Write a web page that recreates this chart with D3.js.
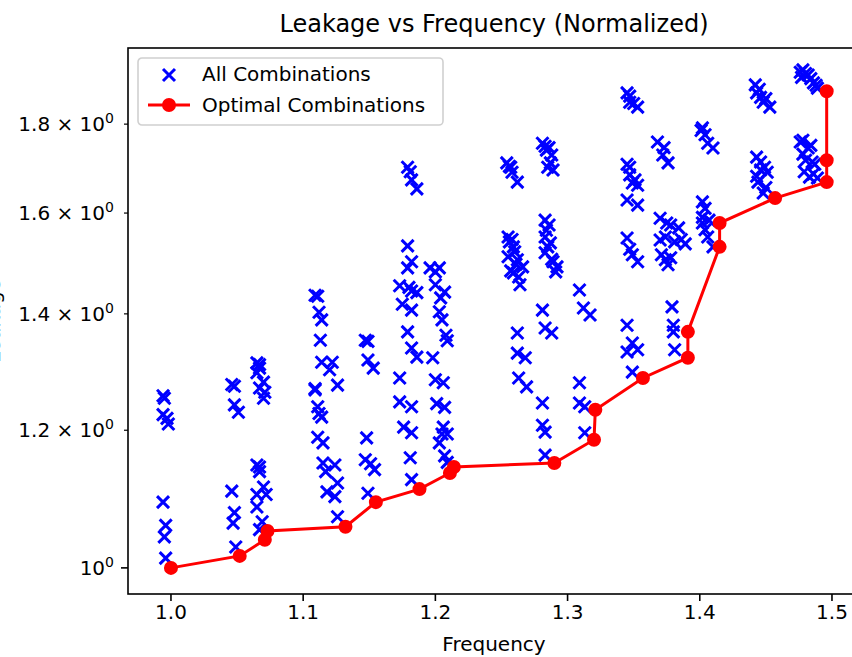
<!DOCTYPE html>
<html>
<head>
<meta charset="utf-8">
<script src="https://cdn.jsdelivr.net/npm/d3@7"></script>
<style>
  body { margin: 0; background: #fff; }
  svg { display: block; font-family: "DejaVu Sans", sans-serif; }
</style>
</head>
<body>
<script>
// every (frequency, leakage) pair that was tried
const allCombinations = [
  [0.994,1.256],[0.995,1.252],[0.994,1.225],[0.997,1.219],[0.998,1.210],[0.994,1.091],[0.996,1.058],[0.995,1.042],[0.996,1.013],
  [1.046,1.275],[1.048,1.272],[1.048,1.241],[1.051,1.229],[1.046,1.107],[1.048,1.076],[1.047,1.061],[1.049,1.028],
  [1.065,1.312],[1.067,1.309],[1.067,1.303],[1.065,1.295],[1.070,1.279],[1.067,1.269],[1.071,1.262],[1.070,1.252],
  [1.065,1.146],[1.067,1.143],[1.067,1.136],[1.070,1.113],[1.065,1.102],[1.072,1.102],[1.065,1.084],[1.069,1.063],[1.067,1.052],
  [1.109,1.435],[1.111,1.433],[1.112,1.403],[1.114,1.389],[1.113,1.352],[1.114,1.313],[1.109,1.266],[1.111,1.238],
  [1.114,1.221],[1.111,1.189],[1.115,1.180],[1.115,1.149],[1.117,1.136],[1.118,1.106],[1.109,1.268],[1.112,1.227],
  [1.122,1.313],[1.120,1.300],[1.126,1.274],[1.124,1.146],[1.126,1.119],[1.124,1.099],[1.126,1.070],
  [1.147,1.352],[1.149,1.350],[1.149,1.317],[1.153,1.303],[1.148,1.188],[1.147,1.154],[1.151,1.148],[1.154,1.139],[1.149,1.104],
  [1.179,1.700],[1.181,1.690],[1.182,1.672],[1.186,1.652],[1.179,1.532],[1.182,1.500],[1.179,1.488],[1.173,1.453],[1.180,1.450],
  [1.182,1.443],[1.186,1.440],[1.175,1.418],[1.182,1.407],[1.179,1.367],[1.182,1.338],[1.186,1.322],[1.173,1.286],[1.173,1.246],
  [1.182,1.238],[1.176,1.205],[1.182,1.196],[1.181,1.157],[1.182,1.124],
  [1.196,1.488],[1.200,1.480],[1.203,1.488],[1.200,1.455],[1.207,1.441],[1.204,1.430],[1.203,1.404],[1.205,1.389],[1.208,1.361],
  [1.209,1.351],[1.198,1.321],[1.200,1.283],[1.206,1.278],[1.201,1.243],[1.207,1.237],[1.206,1.205],[1.205,1.194],[1.209,1.194],
  [1.203,1.180],[1.207,1.160],[1.209,1.150],
  [1.254,1.710],[1.256,1.702],[1.257,1.700],[1.258,1.689],[1.262,1.667],[1.255,1.550],[1.258,1.545],[1.256,1.540],[1.259,1.530],
  [1.260,1.520],[1.255,1.510],[1.262,1.504],[1.261,1.495],[1.266,1.490],[1.257,1.482],[1.259,1.478],[1.263,1.470],[1.264,1.455],
  [1.262,1.365],[1.262,1.329],[1.268,1.321],[1.263,1.286],[1.269,1.271],
  [1.281,1.755],[1.283,1.748],[1.286,1.745],[1.284,1.739],[1.288,1.728],[1.287,1.710],[1.285,1.700],[1.289,1.694],[1.283,1.585],
  [1.286,1.575],[1.284,1.564],[1.283,1.550],[1.287,1.538],[1.285,1.530],[1.283,1.518],[1.288,1.505],[1.289,1.500],[1.292,1.490],
  [1.291,1.480],[1.281,1.407],[1.283,1.374],[1.288,1.365],[1.281,1.244],[1.281,1.208],[1.283,1.197],[1.283,1.161],
  [1.309,1.445],[1.312,1.411],[1.317,1.398],[1.309,1.278],[1.309,1.244],[1.313,1.238],[1.313,1.196],
  [1.345,1.876],[1.347,1.868],[1.347,1.853],[1.350,1.850],[1.353,1.841],[1.345,1.707],[1.347,1.700],[1.347,1.683],[1.351,1.672],
  [1.349,1.665],[1.353,1.660],[1.345,1.628],[1.353,1.617],[1.345,1.548],[1.347,1.525],[1.349,1.514],[1.353,1.500],[1.345,1.379],
  [1.349,1.347],[1.345,1.331],[1.353,1.335],[1.349,1.296],
  [1.368,1.758],[1.373,1.745],[1.372,1.728],[1.376,1.710],[1.370,1.589],[1.375,1.579],[1.378,1.575],[1.384,1.569],[1.374,1.550],
  [1.386,1.545],[1.381,1.540],[1.389,1.536],[1.370,1.544],[1.371,1.514],[1.378,1.508],[1.374,1.504],[1.376,1.494],
  [1.379,1.413],[1.380,1.379],[1.380,1.367],[1.381,1.335],
  [1.402,1.791],[1.401,1.785],[1.404,1.775],[1.406,1.755],[1.410,1.744],[1.402,1.624],[1.404,1.610],[1.402,1.591],[1.407,1.585],
  [1.402,1.579],[1.404,1.565],[1.406,1.550],[1.410,1.530],
  [1.442,1.896],[1.445,1.885],[1.443,1.876],[1.446,1.865],[1.450,1.862],[1.448,1.853],[1.453,1.841],[1.443,1.723],[1.446,1.712],
  [1.449,1.700],[1.446,1.694],[1.451,1.689],[1.443,1.680],[1.444,1.667],[1.450,1.655],[1.448,1.643],
  [1.476,1.928],[1.478,1.934],[1.480,1.925],[1.482,1.921],[1.477,1.915],[1.484,1.912],[1.486,1.901],[1.488,1.895],[1.489,1.888],
  [1.478,1.762],[1.476,1.758],[1.484,1.750],[1.482,1.744],[1.478,1.730],[1.480,1.716],[1.485,1.712],[1.487,1.707],[1.479,1.690],
  [1.486,1.685],[1.483,1.678],[1.489,1.676]
];

// pareto front
const optimalFreq = [1.000,1.052,1.071,1.073,1.132,1.155,1.188,1.211,1.214,1.290,1.320,1.321,1.357,1.391,1.391,1.415,1.415,1.457,1.496,1.496,1.496];
const optimalLeak = [1.000,1.016,1.038,1.050,1.056,1.091,1.110,1.134,1.143,1.149,1.185,1.233,1.286,1.321,1.367,1.530,1.579,1.632,1.667,1.716,1.880];

const xTicks = [1.0, 1.1, 1.2, 1.3, 1.4, 1.5];
const yTicks = [1.0, 1.2, 1.4, 1.6, 1.8];
const yTickMantissa = ['', '1.2', '1.4', '1.6', '1.8'];

const W = 852, H = 657;
const AX = {left: 128, right: 860, top: 48, bottom: 594};
const FS = 20;

let svg = d3.select('body').append('svg')
  .attr('width', W).attr('height', H);

let x = d3.scaleLinear().domain([0.9675, 1.5212]).range([AX.left, AX.right]);
let y = d3.scaleLog().domain([0.966, 1.991]).range([AX.bottom, AX.top]);

svg.append('defs').append('clipPath').attr('id', 'plotclip')
  .append('rect')
  .attr('x', AX.left).attr('y', AX.top)
  .attr('width', AX.right - AX.left).attr('height', AX.bottom - AX.top);

let plot = svg.append('g').attr('clip-path', 'url(#plotclip)');

// blue x markers
const xm = 6;
plot.selectAll('.combo').data(allCombinations).enter()
  .append('path')
  .attr('class', 'combo')
  .attr('d', d => {
    let cx = x(d[0]), cy = y(d[1]);
    return `M${cx - xm},${cy - xm}L${cx + xm},${cy + xm}M${cx - xm},${cy + xm}L${cx + xm},${cy - xm}`;
  })
  .attr('stroke', '#0000ff').attr('stroke-width', 3).attr('fill', 'none');

// optimal line
const optimal = optimalFreq.map((f, i) => [f, optimalLeak[i]]);
plot.append('path')
  .datum(optimal)
  .attr('d', d3.line().x(d => x(d[0])).y(d => y(d[1])))
  .attr('fill', 'none').attr('stroke', '#ff0000').attr('stroke-width', 3);
plot.selectAll('.opt').data(optimal).enter()
  .append('circle')
  .attr('class', 'opt')
  .attr('cx', d => x(d[0])).attr('cy', d => y(d[1]))
  .attr('r', 6).attr('fill', '#ff0000')
  .attr('stroke', '#ff0000').attr('stroke-width', 2);

// axes frame
svg.append('rect')
  .attr('x', AX.left).attr('y', AX.top)
  .attr('width', AX.right - AX.left).attr('height', AX.bottom - AX.top)
  .attr('fill', 'none').attr('stroke', '#000').attr('stroke-width', 1.6);

// x ticks
let xt = svg.append('g');
xTicks.forEach(t => {
  xt.append('line')
    .attr('x1', x(t)).attr('x2', x(t))
    .attr('y1', AX.bottom).attr('y2', AX.bottom + 7)
    .attr('stroke', '#000').attr('stroke-width', 1.6);
  xt.append('text')
    .attr('x', x(t)).attr('y', AX.bottom + 25)
    .attr('text-anchor', 'middle').attr('font-size', FS).attr('fill', '#000')
    .text(t.toFixed(1));
});

// y ticks (log axis, mathtext style labels)
let yt = svg.append('g');
yTicks.forEach((t, i) => {
  let major = t === 1.0;
  yt.append('line')
    .attr('x1', AX.left).attr('x2', AX.left - (major ? 7 : 4))
    .attr('y1', y(t)).attr('y2', y(t))
    .attr('stroke', '#000').attr('stroke-width', major ? 1.6 : 1.2);
  let label = yt.append('text')
    .attr('x', AX.left - 14).attr('y', y(t) + 7)
    .attr('text-anchor', 'end').attr('font-size', FS).attr('fill', '#000');
  let m = yTickMantissa[i];
  label.append('tspan').text(m ? m + ' \u00d7 10' : '10');
  label.append('tspan').attr('dy', -8).attr('font-size', FS * 0.7).text('0');
});

// titles
svg.append('text')
  .attr('x', (AX.left + AX.right) / 2).attr('y', 32)
  .attr('text-anchor', 'middle').attr('font-size', 24).attr('fill', '#000')
  .text('Leakage vs Frequency (Normalized)');
svg.append('text')
  .attr('x', (AX.left + AX.right) / 2).attr('y', 651)
  .attr('text-anchor', 'middle').attr('font-size', FS).attr('fill', '#000')
  .text('Frequency');
// y label sits mostly past the left edge, as in the source figure
svg.append('text')
  .attr('transform', `translate(0,${(AX.top + AX.bottom) / 2}) rotate(-90)`)
  .attr('text-anchor', 'middle').attr('font-size', FS).attr('fill', '#000')
  .text('Leakage');

// legend
let lg = svg.append('g').attr('transform', 'translate(138,58)');
lg.append('rect')
  .attr('width', 305).attr('height', 67).attr('rx', 4)
  .attr('fill', '#fff').attr('fill-opacity', 0.8)
  .attr('stroke', '#d0d0d0').attr('stroke-width', 1.6);
lg.append('path')
  .attr('d', `M${31 - xm},${17 - xm}L${31 + xm},${17 + xm}M${31 - xm},${17 + xm}L${31 + xm},${17 - xm}`)
  .attr('stroke', '#0000ff').attr('stroke-width', 3);
lg.append('text').attr('x', 64).attr('y', 23).attr('font-size', FS).text('All Combinations');
lg.append('line').attr('x1', 10).attr('x2', 52).attr('y1', 47).attr('y2', 47)
  .attr('stroke', '#ff0000').attr('stroke-width', 3);
lg.append('circle').attr('cx', 31).attr('cy', 47).attr('r', 6)
  .attr('fill', '#ff0000').attr('stroke', '#ff0000').attr('stroke-width', 2);
lg.append('text').attr('x', 64).attr('y', 54).attr('font-size', FS).text('Optimal Combinations');
</script>
</body>
</html>
